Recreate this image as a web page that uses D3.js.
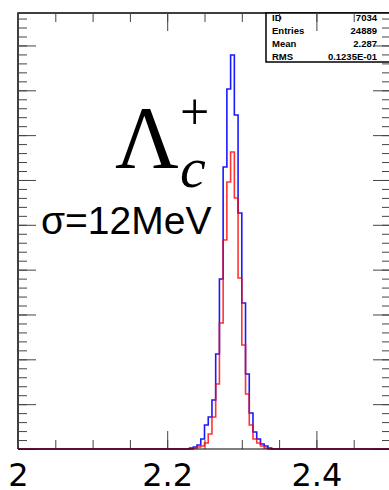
<!DOCTYPE html>
<html>
<head>
<meta charset="utf-8">
<script src="https://cdn.jsdelivr.net/npm/d3@7"></script>
<style>
  body { margin: 0; background: #fff; }
  svg { display: block; }
</style>
</head>
<body>
<svg width="389" height="490"></svg>
<script>
// histogram: 100 bins of 0.005 between 2.0 and 2.5, only non-empty bins kept
const binWidth = 0.005;
const blueFirstBin = 46;
const blueCounts = [11, 22, 45, 111, 268, 357, 546, 1059, 1896, 3144, 4014, 4393,
                    3724, 2631, 1628, 836, 401, 190, 111, 56, 33, 11];
const redFirstBin = 47;
const redCounts = [11, 22, 33, 67, 167, 357, 725, 1405, 2330, 2977, 3312,
                   2799, 1907, 1160, 613, 268, 111, 67, 33, 11];

const xLabels = [2, 2.2, 2.4];
const statLabels = ["ID", "Entries", "Mean", "RMS"];
const statValues = ["7034", "24889", "2.287", "0.1235E-01"];

const frame = {left: 18, top: 13, right: 391, bottom: 449};

const svg = d3.select("svg");

const x = d3.scaleLinear()
    .domain([2, 2.5])
    .range([frame.left, frame.right]);

const y = d3.scaleLinear()
    .domain([0, 4862])
    .range([frame.bottom, frame.top]);

// frame, left / top / right
svg.append("path")
    .attr("d", `M${frame.left},${frame.bottom}V${frame.top}H${frame.right}V${frame.bottom}`)
    .attr("fill", "none")
    .attr("stroke", "#000")
    .attr("stroke-width", 1.5);

// stats box
const box = svg.append("g");
box.append("rect")
    .attr("x", 266)
    .attr("y", frame.top)
    .attr("width", 140)
    .attr("height", 49)
    .attr("fill", "#fff")
    .attr("stroke", "#000")
    .attr("stroke-width", 1.5);

const rowY = d3.scalePoint().domain(statLabels).range([21, 60]);
box.selectAll("text.lab")
    .data(statLabels)
    .enter()
    .append("text")
    .attr("class", "lab")
    .attr("x", 272)
    .attr("y", d => rowY(d))
    .attr("font-family", "Liberation Sans, Arial, sans-serif")
    .attr("font-weight", "bold")
    .attr("font-size", "9.5px")
    .text(d => d);

box.selectAll("text.val")
    .data(statValues)
    .enter()
    .append("text")
    .attr("class", "val")
    .attr("x", 377)
    .attr("y", (d, i) => rowY(statLabels[i]))
    .attr("text-anchor", "end")
    .attr("font-family", "Liberation Sans, Arial, sans-serif")
    .attr("font-weight", "bold")
    .attr("font-size", "9.5px")
    .text(d => d);

// ticks
function styleTicks(g) {
    g.select(".domain").remove();
    g.selectAll(".tick line").attr("stroke", "#444");
    g.selectAll(".tick text").remove();
}

const xMinor = d3.range(0, 11).map(i => 2 + i * 0.05);
const xMajor = [2.2, 2.4];
const yMinor = d3.range(0, 4900, 100);
const yMajor = d3.range(0, 4900, 500);

// bottom (ticks pointing up)
svg.append("g").attr("transform", `translate(0,${frame.bottom})`)
    .call(d3.axisTop(x).tickValues(xMinor).tickSize(9)).call(styleTicks);
svg.append("g").attr("transform", `translate(0,${frame.bottom})`)
    .call(d3.axisTop(x).tickValues(xMajor).tickSize(18)).call(styleTicks);
// top (ticks pointing down)
svg.append("g").attr("transform", `translate(0,${frame.top})`)
    .call(d3.axisBottom(x).tickValues(xMinor).tickSize(9)).call(styleTicks);
svg.append("g").attr("transform", `translate(0,${frame.top})`)
    .call(d3.axisBottom(x).tickValues(xMajor).tickSize(18)).call(styleTicks);
// left
svg.append("g").attr("transform", `translate(${frame.left},0)`)
    .call(d3.axisRight(y).tickValues(yMinor).tickSize(9)).call(styleTicks);
svg.append("g").attr("transform", `translate(${frame.left},0)`)
    .call(d3.axisRight(y).tickValues(yMajor).tickSize(18)).call(styleTicks);
// right
svg.append("g").attr("transform", `translate(${frame.right},0)`)
    .call(d3.axisLeft(y).tickValues(yMinor).tickSize(9)).call(styleTicks);
svg.append("g").attr("transform", `translate(${frame.right},0)`)
    .call(d3.axisLeft(y).tickValues(yMajor).tickSize(18)).call(styleTicks);

// x labels
const xAxis = svg.append("g")
    .attr("transform", `translate(0,${frame.bottom})`)
    .call(d3.axisBottom(x).tickValues(xLabels).tickSize(0).tickPadding(14)
        .tickFormat(d3.format("")));
xAxis.select(".domain").remove();
xAxis.selectAll("text")
    .attr("font-family", "DejaVu Sans ExtraLight, DejaVu Sans, sans-serif")
    .attr("font-size", "32px")
    .attr("fill", "#000");

// histograms
function histPoints(first, counts) {
    const pts = [[2, 0]];
    counts.forEach((c, i) => pts.push([2 + (first + i) * binWidth, c]));
    pts.push([2 + (first + counts.length) * binWidth, 0]);
    pts.push([2.5, 0]);
    return pts;
}

const line = d3.line()
    .x(d => x(d[0]))
    .y(d => y(d[1]))
    .curve(d3.curveStepAfter);

svg.append("path")
    .datum(histPoints(blueFirstBin, blueCounts))
    .attr("fill", "none")
    .attr("stroke", "#0000ff")
    .attr("stroke-opacity", 0.9)
    .attr("stroke-width", 1.6)
    .attr("d", line);

svg.append("path")
    .datum(histPoints(redFirstBin, redCounts))
    .attr("fill", "none")
    .attr("stroke", "#ff0000")
    .attr("stroke-opacity", 0.8)
    .attr("stroke-width", 1.6)
    .attr("d", line);

// bottom frame line over the histograms
svg.append("line")
    .attr("x1", frame.left)
    .attr("x2", frame.right)
    .attr("y1", frame.bottom)
    .attr("y2", frame.bottom)
    .attr("stroke", "#000")
    .attr("stroke-opacity", 0.5)
    .attr("stroke-width", 2);

// annotation
svg.append("text")
    .attr("x", 115)
    .attr("y", 167)
    .attr("font-family", "Liberation Serif, Times New Roman, serif")
    .attr("font-size", "88px")
    .text("Λ");
svg.append("text")
    .attr("x", 180)
    .attr("y", 187)
    .attr("font-family", "Liberation Serif, Times New Roman, serif")
    .attr("font-style", "italic")
    .attr("font-size", "58px")
    .text("c");
svg.append("text")
    .attr("x", 180)
    .attr("y", 129)
    .attr("font-family", "Liberation Serif, Times New Roman, serif")
    .attr("font-size", "52px")
    .text("+");
svg.append("text")
    .attr("x", 41)
    .attr("y", 234)
    .attr("font-family", "Liberation Sans, Arial, sans-serif")
    .attr("font-size", "39px")
    .text("σ=12MeV");
</script>
</body>
</html>
